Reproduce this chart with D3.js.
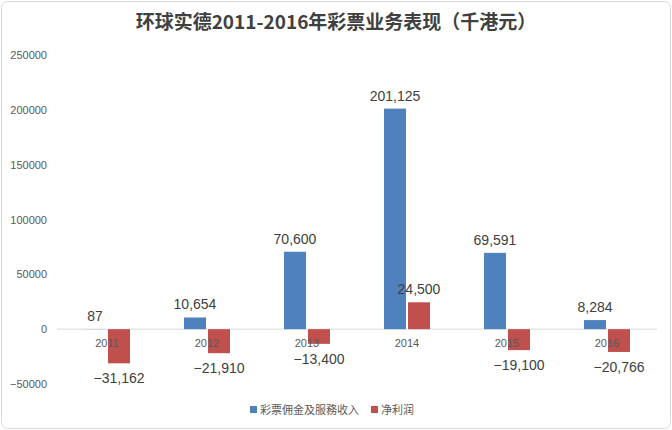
<!DOCTYPE html>
<html><head><meta charset="utf-8">
<script src="https://cdn.jsdelivr.net/npm/d3@7"></script>
<style>body{margin:0;background:#fff;font-family:"Noto Sans CJK SC","DejaVu Sans",sans-serif;}</style>
</head><body><div id="chart"></div>
<script>
const years = ["2011","2012","2013","2014","2015","2016"];
const revenue = [87, 10654, 70600, 201125, 69591, 8284];
const profit = [-31162, -21910, -13400, 24500, -19100, -20766];
const yTicks = [-50000, 0, 50000, 100000, 150000, 200000, 250000];
const seriesNames = ["彩票佣金及服務收入", "净利润"];
const colors = ["#4F81BD", "#C0504D"];

const width = 672, height = 430;
const svg = d3.select("#chart").append("svg").attr("width", width).attr("height", height);

svg.append("rect").attr("x", 1.5).attr("y", 1.5).attr("width", width - 3).attr("height", height - 3)
    .attr("rx", 6).attr("fill", "#fff").attr("stroke", "#d9d9d9");

svg.append("text").attr("x", width / 2).attr("y", 29).attr("text-anchor", "middle")
    .style("font-size", "19px").style("font-weight", "bold").attr("fill", "#404040")
    .text("环球实德2011-2016年彩票业务表现（千港元）");

const x = d3.scaleBand().domain(years).range([57, 657]);
const y = d3.scaleLinear().domain([-50000, 250000]).range([384, 55]);

const yAxis = svg.append("g").attr("transform", "translate(50,0)")
    .call(d3.axisLeft(y).tickValues(yTicks).tickSize(0).tickFormat(d3.format("d")));
yAxis.select(".domain").remove();
yAxis.selectAll("text").style("font-size", "11px").attr("fill", "#595959").attr("font-family", "Liberation Sans, sans-serif");

svg.append("line").attr("x1", x.range()[0]).attr("x2", x.range()[1])
    .attr("y1", y(0)).attr("y2", y(0)).attr("stroke", "#d9d9d9");

const bw = 22;
const fmt = d3.format(",");
years.forEach((yr, i) => {
    const cx = x(yr) + x.bandwidth() / 2;
    [revenue[i], profit[i]].forEach((v, k) => {
        const bx = k === 0 ? cx - 1 - bw : cx + 1;
        svg.append("rect").attr("x", bx).attr("width", bw)
            .attr("y", y(Math.max(0, v))).attr("height", Math.abs(y(v) - y(0)))
            .attr("fill", colors[k]);
        const ly = v >= 0 ? y(v) - 8 : y(v) + 20;
        svg.append("text").attr("x", bx + bw / 2).attr("y", ly).attr("text-anchor", "middle")
            .style("font-size", "14px").attr("fill", "#404040").attr("font-family", "Liberation Sans, sans-serif")
            .text(fmt(v));
    });
    svg.append("text").attr("x", cx).attr("y", y(0) + 18).attr("text-anchor", "middle")
        .style("font-size", "11px").attr("fill", "#595959").attr("font-family", "Liberation Sans, sans-serif")
        .text(yr);
});

const leg = svg.append("g").attr("transform", "translate(250,410)");
let lx = 0;
seriesNames.forEach((n, k) => {
    leg.append("rect").attr("x", lx).attr("y", -4).attr("width", 7).attr("height", 7).attr("fill", colors[k]);
    const t = leg.append("text").attr("x", lx + 10).attr("y", 4).style("font-size", "11px").attr("fill", "#595959").text(n);
    lx += t.node().getComputedTextLength() + 22;
});
</script></body></html>
